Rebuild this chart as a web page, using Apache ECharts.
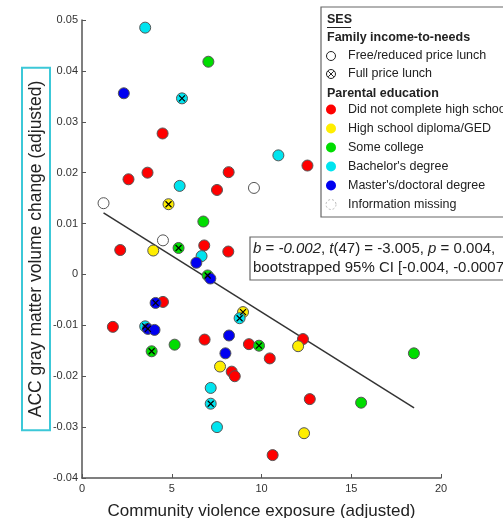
<!DOCTYPE html>
<html>
<head>
<meta charset="utf-8">
<script src="https://cdn.jsdelivr.net/npm/echarts@6/dist/echarts.min.js"></script>
<style>
  html, body { margin: 0; padding: 0; background: #fff; }
  #chart { width: 503px; height: 518px; }
</style>
</head>
<body>
<div id="chart"></div>
<script>
// [x, y, lunch]  lunch: 0 = free/reduced price, 1 = full price (crossed marker)
const noHighSchool = [
  [4.49, 0.0277, 0], [3.65, 0.0200, 0], [8.17, 0.0201, 0], [2.59, 0.0187, 0],
  [7.52, 0.0166, 0], [12.56, 0.0214, 0], [6.81, 0.0057, 0], [2.13, 0.0048, 0],
  [8.15, 0.0045, 0], [4.51, -0.0054, 0], [1.72, -0.0103, 0], [6.83, -0.0128, 0],
  [9.30, -0.0137, 0], [10.46, -0.0165, 0], [8.34, -0.0191, 0], [8.51, -0.0200, 0],
  [10.62, -0.0355, 0], [12.31, -0.0127, 0], [12.69, -0.0245, 0]
];
const highSchool = [
  [4.82, 0.0138, 1], [3.97, 0.0047, 0], [8.97, -0.0074, 1], [7.69, -0.0181, 0],
  [12.04, -0.0141, 0], [12.37, -0.0312, 0]
];
const someCollege = [
  [7.04, 0.0418, 0], [6.76, 0.0104, 0], [5.38, 0.0052, 1], [7.00, -0.0002, 1],
  [5.16, -0.0138, 0], [3.88, -0.0151, 1], [9.86, -0.0140, 1], [18.49, -0.0155, 0],
  [15.55, -0.0252, 0]
];
const bachelor = [
  [3.52, 0.0485, 0], [5.57, 0.0346, 1], [5.44, 0.0174, 0], [10.94, 0.0234, 0],
  [6.66, 0.0036, 0], [8.78, -0.0086, 1], [3.52, -0.0102, 1], [7.17, -0.0223, 0],
  [7.17, -0.0254, 1], [7.52, -0.0300, 0]
];
const graduate = [
  [2.33, 0.0356, 0], [6.37, 0.0023, 0], [7.15, -0.0008, 0], [4.10, -0.0056, 1],
  [3.67, -0.0107, 1], [4.04, -0.0109, 0], [8.19, -0.0120, 0], [7.99, -0.0155, 0]
];
const missingInfo = [
  [1.20, 0.0140, 0], [4.51, 0.0067, 0], [9.58, 0.0170, 0]
];
// regression line end points
const fitX = [1.2, 18.5];
const fitY = [0.0121, -0.0262];

const educationLabels = [
  'Did not complete high school', 'High school diploma/GED', 'Some college',
  "Bachelor's degree", "Master's/doctoral degree", 'Information missing'
];
const educationColors = ['#ff0000', '#ffee00', '#00dd00', '#00e4ef', '#0000f0', '#ffffff'];
const groups = [noHighSchool, highSchool, someCollege, bachelor, graduate, missingInfo];

const FONT = 'Liberation Sans, Arial, sans-serif';
const chart = echarts.init(document.getElementById('chart'));

const series = [];
series.push({
  type: 'line',
  data: fitX.map((x, i) => [x, fitY[i]]),
  symbol: 'none',
  lineStyle: { color: '#333', width: 1.5 },
  silent: true,
  z: 2
});
groups.forEach((g, i) => {
  series.push({
    type: 'scatter',
    name: educationLabels[i],
    data: g.map(d => [d[0], d[1]]),
    symbolSize: 11,
    itemStyle: { color: educationColors[i], borderColor: '#555', borderWidth: 1, opacity: 1 },
    z: 3
  });
});
const crossed = [];
groups.forEach(g => g.forEach(d => { if (d[2] === 1) crossed.push([d[0], d[1]]); }));
series.push({
  type: 'scatter',
  data: crossed,
  symbol: 'path://M0,0L10,10M10,0L0,10',
  symbolSize: 6,
  itemStyle: { color: 'none', borderColor: '#000', borderWidth: 1.2, opacity: 1 },
  silent: true,
  z: 4
});

// legend drawn as graphic elements
const lg = [];
const lx = 331, tx = 348;
const LF = '12.5px ' + FONT, LB = 'bold 12.5px ' + FONT;
lg.push({ type: 'rect', shape: { x: 321, y: 7, width: 200, height: 210 },
  style: { fill: '#fff', stroke: '#666', lineWidth: 1.2 } });
lg.push({ type: 'text', x: 327, y: 20, style: { text: 'SES', font: LB, fill: '#222', verticalAlign: 'middle' } });
lg.push({ type: 'line', shape: { x1: 327, y1: 27.5, x2: 351, y2: 27.5 }, style: { stroke: '#222', lineWidth: 1 } });
lg.push({ type: 'text', x: 327, y: 37.5, style: { text: 'Family income-to-needs', font: LB, fill: '#222', verticalAlign: 'middle' } });
lg.push({ type: 'circle', shape: { cx: lx, cy: 56, r: 4.5 }, style: { fill: '#fff', stroke: '#222', lineWidth: 1 } });
lg.push({ type: 'text', x: tx, y: 56, style: { text: 'Free/reduced price lunch', font: LF, fill: '#222', verticalAlign: 'middle' } });
lg.push({ type: 'circle', shape: { cx: lx, cy: 74, r: 4.5 }, style: { fill: '#fff', stroke: '#222', lineWidth: 1 } });
lg.push({ type: 'line', shape: { x1: lx - 2.8, y1: 71.2, x2: lx + 2.8, y2: 76.8 }, style: { stroke: '#222', lineWidth: 1 } });
lg.push({ type: 'line', shape: { x1: lx + 2.8, y1: 71.2, x2: lx - 2.8, y2: 76.8 }, style: { stroke: '#222', lineWidth: 1 } });
lg.push({ type: 'text', x: tx, y: 74, style: { text: 'Full price lunch', font: LF, fill: '#222', verticalAlign: 'middle' } });
lg.push({ type: 'text', x: 327, y: 94, style: { text: 'Parental education', font: LB, fill: '#222', verticalAlign: 'middle' } });
educationLabels.forEach((lab, i) => {
  const cy = 109.5 + i * 19;
  const missing = i === educationLabels.length - 1;
  lg.push({ type: 'circle', shape: { cx: lx, cy: cy, r: 5 },
    style: missing ? { fill: '#fff', stroke: '#bbb', lineWidth: 1, lineDash: [2, 2] }
                   : { fill: educationColors[i] } });
  lg.push({ type: 'text', x: tx, y: cy, style: { text: lab, font: LF, fill: '#222', verticalAlign: 'middle' } });
});

// statistics box
lg.push({ type: 'rect', shape: { x: 250, y: 237, width: 280, height: 43 },
  style: { fill: '#fff', stroke: '#666', lineWidth: 1.2 } });
lg.push({ type: 'text', x: 253, y: 249, style: {
  text: '{i|b} = {i|-0.002}, {i|t}(47) = -3.005, {i|p} = 0.004,',
  font: '15px ' + FONT, fill: '#222', verticalAlign: 'middle',
  rich: { i: { fontStyle: 'italic', fontSize: 15, fontFamily: FONT, fill: '#222' } } } });
lg.push({ type: 'text', x: 253, y: 267.5, style: {
  text: 'bootstrapped 95% CI [-0.004, -0.0007]',
  font: '15px ' + FONT, fill: '#222', verticalAlign: 'middle' } });

chart.setOption({
  animation: false,
  backgroundColor: '#fff',
  grid: { left: 82, right: 62, top: 20, bottom: 40, outerBoundsMode: 'none' },
  xAxis: {
    type: 'value', min: 0, max: 20, interval: 5,
    name: 'Community violence exposure (adjusted)',
    nameLocation: 'middle', nameGap: 25, nameMoveOverlap: false,
    nameTextStyle: { fontFamily: FONT, fontSize: 17, color: '#222', verticalAlign: 'top' },
    axisLine: { onZero: false, lineStyle: { color: '#555', width: 1.5 } },
    axisTick: { inside: true, length: 4, lineStyle: { color: '#555' } },
    axisLabel: { fontFamily: FONT, fontSize: 11, color: '#333', margin: 5 },
    splitLine: { show: false }
  },
  yAxis: {
    type: 'value', min: -0.04, max: 0.05, interval: 0.01,
    name: 'ACC gray matter volume change (adjusted)',
    nameLocation: 'middle', nameGap: 32, nameMoveOverlap: false,
    nameTextStyle: { fontFamily: FONT, fontSize: 17.5, color: '#222',
      borderColor: '#3cc8d8', borderWidth: 2, padding: [5, 13, 5, 13] },
    axisLine: { onZero: false, lineStyle: { color: '#555', width: 1.5 } },
    axisTick: { inside: true, length: 4, lineStyle: { color: '#555' } },
    axisLabel: { fontFamily: FONT, fontSize: 11, color: '#333', margin: 4 },
    splitLine: { show: false }
  },
  series: series,
  graphic: lg
});
</script>
</body>
</html>
